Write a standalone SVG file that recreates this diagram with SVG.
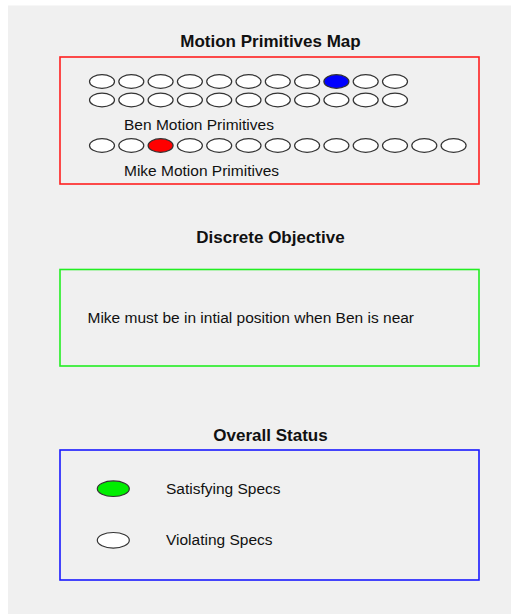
<svg xmlns="http://www.w3.org/2000/svg" width="511" height="614" viewBox="0 0 511 614">
<style>
.bg{fill:#f0f0f0}
.title{font-family:"Liberation Sans",Arial,sans-serif;font-size:17px;font-weight:bold;fill:#111;text-anchor:middle}
.lbl{font-family:"Liberation Sans",Arial,sans-serif;font-size:15.5px;fill:#111}
.mp{fill:#ffffff;stroke:#333;stroke-width:1.2}
.box{fill:none;stroke-width:1.6}
</style>
<rect x="0" y="0" width="511" height="614" fill="#ffffff"/>
<rect class="bg" x="8" y="5.5" width="503" height="608.5"/>

<g id="motion-primitives-map">
<text class="title" x="270.5" y="47">Motion Primitives Map</text>
<rect class="box" x="60" y="57" width="419" height="127" stroke="#ff2020"/>
<g id="ben-primitives">
<ellipse class="mp" cx="102" cy="81.5" rx="12.5" ry="6.8"/>
<ellipse class="mp" cx="131.3" cy="81.5" rx="12.5" ry="6.8"/>
<ellipse class="mp" cx="160.6" cy="81.5" rx="12.5" ry="6.8"/>
<ellipse class="mp" cx="189.9" cy="81.5" rx="12.5" ry="6.8"/>
<ellipse class="mp" cx="219.2" cy="81.5" rx="12.5" ry="6.8"/>
<ellipse class="mp" cx="248.5" cy="81.5" rx="12.5" ry="6.8"/>
<ellipse class="mp" cx="277.8" cy="81.5" rx="12.5" ry="6.8"/>
<ellipse class="mp" cx="307.1" cy="81.5" rx="12.5" ry="6.8"/>
<ellipse class="mp" cx="336.4" cy="81.5" rx="12.5" ry="6.8" style="fill:#0000ff"/>
<ellipse class="mp" cx="365.7" cy="81.5" rx="12.5" ry="6.8"/>
<ellipse class="mp" cx="395" cy="81.5" rx="12.5" ry="6.8"/>
<ellipse class="mp" cx="102" cy="100" rx="12.5" ry="6.8"/>
<ellipse class="mp" cx="131.3" cy="100" rx="12.5" ry="6.8"/>
<ellipse class="mp" cx="160.6" cy="100" rx="12.5" ry="6.8"/>
<ellipse class="mp" cx="189.9" cy="100" rx="12.5" ry="6.8"/>
<ellipse class="mp" cx="219.2" cy="100" rx="12.5" ry="6.8"/>
<ellipse class="mp" cx="248.5" cy="100" rx="12.5" ry="6.8"/>
<ellipse class="mp" cx="277.8" cy="100" rx="12.5" ry="6.8"/>
<ellipse class="mp" cx="307.1" cy="100" rx="12.5" ry="6.8"/>
<ellipse class="mp" cx="336.4" cy="100" rx="12.5" ry="6.8"/>
<ellipse class="mp" cx="365.7" cy="100" rx="12.5" ry="6.8"/>
<ellipse class="mp" cx="395" cy="100" rx="12.5" ry="6.8"/>
<text class="lbl" x="124" y="130">Ben Motion Primitives</text>
</g>
<g id="mike-primitives">
<ellipse class="mp" cx="102" cy="145.5" rx="12.5" ry="6.8"/>
<ellipse class="mp" cx="131.3" cy="145.5" rx="12.5" ry="6.8"/>
<ellipse class="mp" cx="160.6" cy="145.5" rx="12.5" ry="6.8" style="fill:#ff0000"/>
<ellipse class="mp" cx="189.9" cy="145.5" rx="12.5" ry="6.8"/>
<ellipse class="mp" cx="219.2" cy="145.5" rx="12.5" ry="6.8"/>
<ellipse class="mp" cx="248.5" cy="145.5" rx="12.5" ry="6.8"/>
<ellipse class="mp" cx="277.8" cy="145.5" rx="12.5" ry="6.8"/>
<ellipse class="mp" cx="307.1" cy="145.5" rx="12.5" ry="6.8"/>
<ellipse class="mp" cx="336.4" cy="145.5" rx="12.5" ry="6.8"/>
<ellipse class="mp" cx="365.7" cy="145.5" rx="12.5" ry="6.8"/>
<ellipse class="mp" cx="395" cy="145.5" rx="12.5" ry="6.8"/>
<ellipse class="mp" cx="424.3" cy="145.5" rx="12.5" ry="6.8"/>
<ellipse class="mp" cx="453.6" cy="145.5" rx="12.5" ry="6.8"/>
<text class="lbl" x="124" y="175.5">Mike Motion Primitives</text>
</g>
</g>

<g id="discrete-objective">
<text class="title" x="270.5" y="243">Discrete Objective</text>
<rect class="box" x="60" y="269.5" width="419" height="96.5" stroke="#22ee22"/>
<text class="lbl" x="87.5" y="323">Mike must be in intial position when Ben is near</text>
</g>

<g id="overall-status">
<text class="title" x="270.5" y="440.5">Overall Status</text>
<rect class="box" x="60" y="450" width="419" height="130" stroke="#1a1aff"/>
<g id="legend-satisfying">
<ellipse cx="113.3" cy="488.7" rx="16" ry="7.8" fill="#00ee00" stroke="#333" stroke-width="1.2"/>
<text class="lbl" x="166" y="494">Satisfying Specs</text>
</g>
<g id="legend-violating">
<ellipse cx="113.3" cy="540.3" rx="16" ry="7.8" fill="#ffffff" stroke="#333" stroke-width="1.2"/>
<text class="lbl" x="166" y="545">Violating Specs</text>
</g>
</g>
<g id="connectors"/>
</svg>
